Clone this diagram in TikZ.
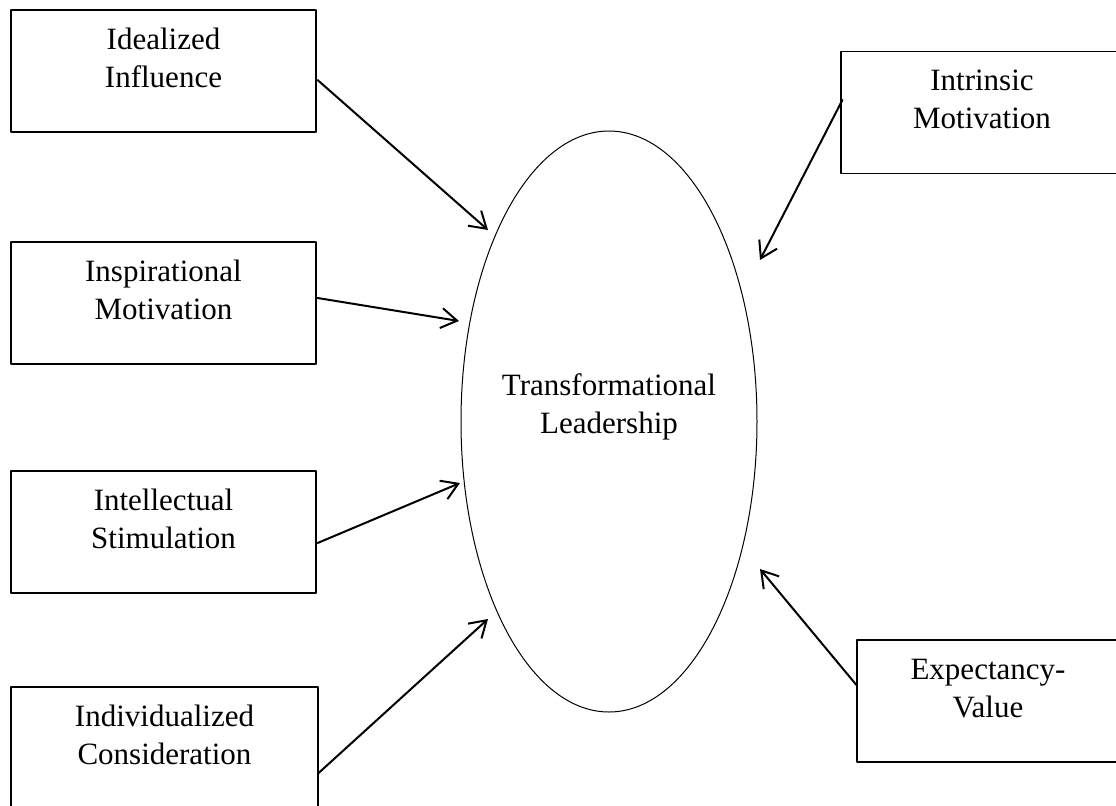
\documentclass[tikz,border=0pt]{standalone}
\usepackage{fontspec}
\setmainfont{Liberation Serif}
\usetikzlibrary{arrows.meta,shapes.geometric,calc}
\tikzset{
  factor/.style={draw, line width=0.6pt, minimum height=61pt, align=center, inner sep=0pt, text height=30pt, text depth=14pt},
  core/.style={draw, ellipse, line width=0.5pt, minimum width=148pt, minimum height=290.5pt, inner xsep=-3pt, inner ysep=0pt, align=center, text height=30pt, text depth=18.5pt},
  link/.style={-{Straight Barb[length=8pt,width=10pt]}, line width=1pt}
}
\begin{document}
\begin{tikzpicture}[x=0.5pt, y=-0.5pt, font=\fontsize{15.5}{19}\selectfont, line join=round, line cap=round]
\useasboundingbox (0,0) rectangle (1116,805);
\clip (0,0) rectangle (1116,805);
% left column
\node[factor, minimum width=152.5pt] (ii) at (163.5,71) {Idealized\\Influence};
\node[factor, minimum width=152.5pt] (im) at (163.5,303) {Inspirational\\Motivation};
\node[factor, minimum width=152.5pt] (is) at (163.5,532) {Intellectual\\Stimulation};
\node[factor, minimum width=153.5pt] (ic) at (164.5,748) {Individualized\\Consideration};
% right column
\node[factor, minimum width=141pt] (intr) at (982,112.5) {Intrinsic\\Motivation};
\node[factor, minimum width=131pt] (ev) at (988,701) {Expectancy-\\Value};
% centre
\node[core] (tl) at (609,421.5) {Transformational\\Leadership};
\coordinate (t1) at (488,230);
\coordinate (t2) at (459,321);
\coordinate (t3) at (460,483);
\coordinate (t4) at (488,619);
\coordinate (t5) at (760,260);
\coordinate (t6) at (760,569);
\draw[link] ($(ii.east)+(1,9)$) -- (t1);
\draw[link] ($(im.east)+(1,-5)$) -- (t2);
\draw[link] ($(is.east)+(1,11)$) -- (t3);
\draw[link] ($(ic.east)+(0,25)$) -- (t4);
\draw[link] ($(intr.west)+(2,-12.5)$) -- (t5);
\draw[link] ($(ev.west)+(0,-16)$) -- (t6);
\end{tikzpicture}
\end{document}
